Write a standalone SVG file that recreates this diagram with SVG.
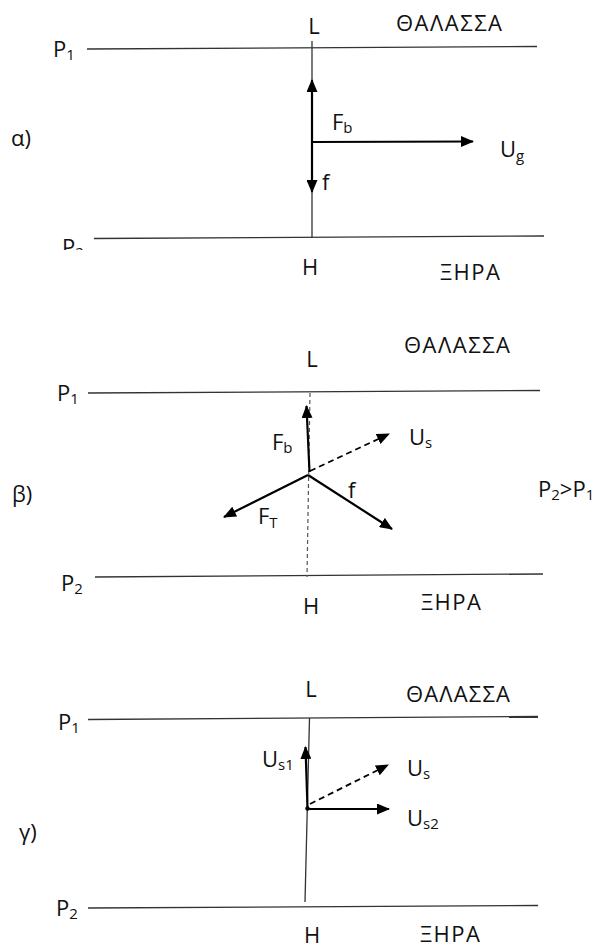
<svg xmlns="http://www.w3.org/2000/svg" width="598" height="949" viewBox="0 0 598 949">
<style>
text{font-family:"Open Sans","Liberation Sans",sans-serif;font-size:22px;fill:#111}
.sub{font-size:15px}
.mid{text-anchor:middle}
.thin{stroke:#333;stroke-width:1.3;fill:none}
.vec{stroke:#000;stroke-width:2.2;fill:none;marker-end:url(#ah)}
.dash{stroke:#000;stroke-width:1.8;fill:none;stroke-dasharray:6,4;marker-end:url(#ah)}
.dsh{stroke:#555;stroke-width:1.2;fill:none;stroke-dasharray:4,3}
</style>
<defs>
<marker id="ah" markerUnits="userSpaceOnUse" markerWidth="13" markerHeight="11" refX="12" refY="5.5" orient="auto">
<path d="M0,0 L13,5.5 L0,11 z" fill="#000"/>
</marker>
<clipPath id="cp2"><rect x="50" y="230" width="50" height="20"/></clipPath>
</defs>

<g id="panel-a">
<g id="a-isobars">
<path class="thin" d="M87,49 L537,46.5"/>
<path class="thin" d="M94,238.5 L544,236"/>
<path class="thin" d="M312,41 L312,238"/>
</g>
<g id="a-labels">
<text x="314" y="34" class="mid">L</text>
<text x="396" y="31" textLength="106" lengthAdjust="spacing">ΘΑΛΑΣΣΑ</text>
<text x="53" y="57">P<tspan class="sub" dy="3">1</tspan></text>
<text x="62" y="255" clip-path="url(#cp2)">P<tspan class="sub" dy="3">2</tspan></text>
<text x="11" y="146">α)</text>
<text x="310" y="275" class="mid">H</text>
<text x="440" y="280" textLength="60" lengthAdjust="spacing">ΞΗΡΑ</text>
</g>
<g id="a-vectors">
<path class="vec" d="M312,142 L312,80"/>
<path class="vec" d="M312,142 L312,192"/>
<path class="vec" d="M312,142 L473,141.5"/>
</g>
<g id="a-vlabels">
<text x="332" y="130">F<tspan class="sub" dy="3">b</tspan></text>
<text x="500" y="157">U<tspan class="sub" dy="4">g</tspan></text>
<text x="322" y="190">f</text>
</g>
</g>

<g id="panel-b">
<g id="b-isobars">
<path class="thin" d="M88,393 L540,390.5"/>
<path class="thin" d="M95,577 L543,574"/>
<path class="dsh" d="M310,393 L307,577"/>
</g>
<g id="b-labels">
<text x="312" y="367" class="mid">L</text>
<text x="404" y="353" textLength="106" lengthAdjust="spacing">ΘΑΛΑΣΣΑ</text>
<text x="57" y="401">P<tspan class="sub" dy="3">1</tspan></text>
<text x="61" y="591">P<tspan class="sub" dy="3">2</tspan></text>
<text x="12" y="502">β)</text>
<text x="538" y="497">P<tspan class="sub" dy="3">2</tspan><tspan dy="-3">&gt;P</tspan><tspan class="sub" dy="3">1</tspan></text>
<text x="311" y="614" class="mid">H</text>
<text x="421" y="610" textLength="60" lengthAdjust="spacing">ΞΗΡΑ</text>
</g>
<g id="b-vectors">
<path class="vec" d="M309.5,472 L306.5,406"/>
<path class="dash" d="M310,471 L389,434"/>
<path class="vec" d="M308,475 L224,517"/>
<path class="vec" d="M308,475 L392,529"/>
</g>
<g id="b-vlabels">
<text x="272" y="450">F<tspan class="sub" dy="3">b</tspan></text>
<text x="409" y="445">U<tspan class="sub" dy="3">s</tspan></text>
<text x="348" y="498">f</text>
<text x="258" y="524">F<tspan class="sub" dy="4">T</tspan></text>
</g>
</g>

<g id="panel-c">
<g id="c-isobars">
<path class="thin" d="M88,719.5 L538,716.5"/>
<path class="thin" d="M88,908 L538,905.5"/>
<path class="thin" d="M309.5,718 L305,902"/>
</g>
<g id="c-labels">
<text x="311" y="697" class="mid">L</text>
<text x="406" y="702" textLength="104" lengthAdjust="spacing">ΘΑΛΑΣΣΑ</text>
<text x="58" y="730">P<tspan class="sub" dy="3">1</tspan></text>
<text x="56" y="916">P<tspan class="sub" dy="3">2</tspan></text>
<text x="19" y="840">γ)</text>
<text x="312" y="943" class="mid">H</text>
<text x="420" y="942" textLength="60" lengthAdjust="spacing">ΞΗΡΑ</text>
</g>
<g id="c-vectors">
<path class="vec" d="M307.5,808 L305.5,747"/>
<path class="dash" d="M310,804 L388,765"/>
<path class="vec" d="M307,809 L389,809"/>
<circle cx="307.5" cy="808.5" r="2.2" fill="#000"/>
</g>
<g id="c-vlabels">
<text x="262" y="767">U<tspan class="sub" dy="3">s1</tspan></text>
<text x="407" y="776">U<tspan class="sub" dy="3">s</tspan></text>
<text x="407" y="826">U<tspan class="sub" dy="3">s2</tspan></text>
</g>
</g>
</svg>
